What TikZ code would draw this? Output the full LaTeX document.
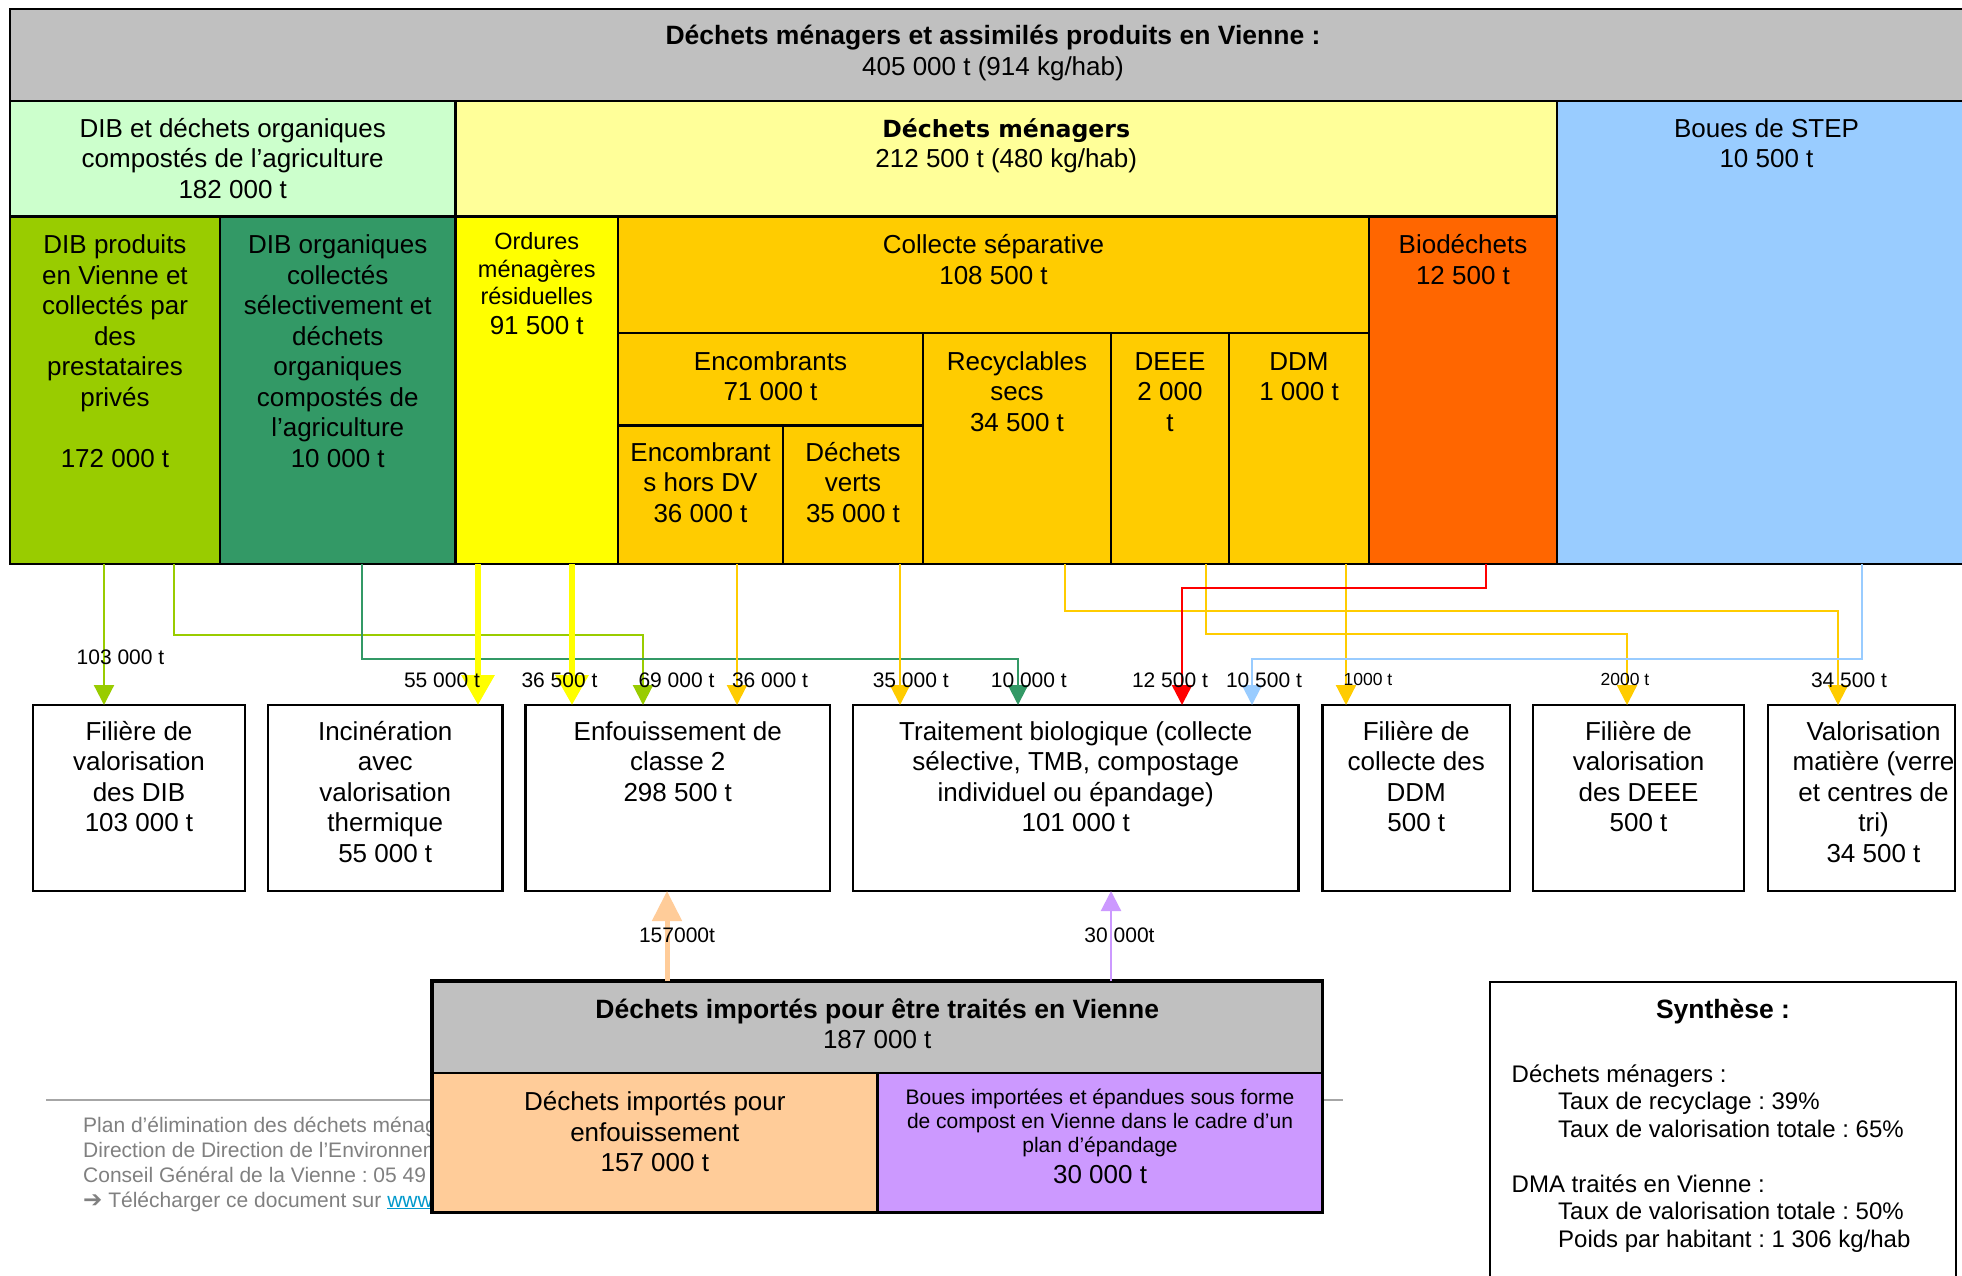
\documentclass[tikz,border=0pt]{standalone}
\usepackage{fontspec}
\setmainfont{Liberation Sans}
\newfontfamily\dejavu{DejaVu Sans}
\usetikzlibrary{arrows.meta,fit}
\definecolor{cTitle}{HTML}{C0C0C0}
\definecolor{cLGreen}{HTML}{CCFFCC}
\definecolor{cLYellow}{HTML}{FFFF99}
\definecolor{cLBlue}{HTML}{99CCFF}
\definecolor{cOlive}{HTML}{99CC00}
\definecolor{cDGreen}{HTML}{339966}
\definecolor{cYellow}{HTML}{FFFF00}
\definecolor{cOrange}{HTML}{FFCC00}
\definecolor{cRed}{HTML}{FF6600}
\definecolor{cArrRed}{HTML}{FF0000}
\definecolor{cPeach}{HTML}{FFCC99}
\definecolor{cPurple}{HTML}{CC99FF}
\definecolor{cFoot}{HTML}{808080}
\definecolor{cLink}{HTML}{0099CC}
\definecolor{cRule}{HTML}{A6A6A6}
\newcommand\bigbold[1]{{\bfseries\fontsize{26.5}{30.5}\selectfont #1}}
\begin{document}
\frenchspacing
\begin{tikzpicture}[x=1pt,y=-1pt,
 cell/.style={draw=black,line width=2.5pt,inner sep=0pt,outer sep=0pt},
 box/.style={draw=black,line width=2.5pt,inner sep=0pt,outer sep=0pt,fill=white},
 txt/.style={anchor=north,align=center,inner sep=0pt,outer sep=0pt,font=\fontsize{26}{30.5}\selectfont},
 lab/.style={inner sep=0pt,font=\fontsize{21}{24}\selectfont},
 slab/.style={inner sep=0pt,font=\fontsize{17.5}{20}\selectfont},
 conn/.style={draw=#1,line width=2.2pt,-{Triangle[width=20pt,length=20pt]}},
 thickconn/.style={draw=#1,line width=6.4pt,-{Triangle[width=32pt,length=30pt]}},
 peachconn/.style={draw=cPeach,line width=5pt,-{Triangle[width=29pt,length=30pt]}}
]
\useasboundingbox (0,0) rectangle (1962,1276);
\clip (0,0) rectangle (1962,1276);
\fill[white] (0,0) rectangle (1962,1276);

% ---------- upper grid ----------
\node[cell,fill=cTitle,fit={(10,9) (1976,101)}] (title) {};
\node[cell,fill=cLGreen,fit={(10,101) (455.5,216.5)}] (dibAll) {};
\node[cell,fill=cLYellow,fit={(455.5,101) (1557,216.5)}] (dm) {};
\node[cell,fill=cLBlue,fit={(1557,101) (1976,564)}] (step) {};
\node[cell,fill=cOlive,fit={(10,216.5) (220,564)}] (dibp) {};
\node[cell,fill=cDGreen,fit={(220,216.5) (455.5,564)}] (dibo) {};
\node[cell,fill=cYellow,fit={(455.5,216.5) (618,564)}] (omr) {};
\node[cell,fill=cOrange,fit={(618,216.5) (1369,333)}] (cs) {};
\node[cell,fill=cRed,fit={(1369,216.5) (1557,564)}] (bio) {};
\node[cell,fill=cOrange,fit={(618,333) (923,425.5)}] (enc) {};
\node[cell,fill=cOrange,fit={(618,425.5) (783,564)}] (enchdv) {};
\node[cell,fill=cOrange,fit={(783,425.5) (923,564)}] (dv) {};
\node[cell,fill=cOrange,fit={(923,333) (1111,564)}] (rec) {};
\node[cell,fill=cOrange,fit={(1111,333) (1229,564)}] (deee) {};
\node[cell,fill=cOrange,fit={(1229,333) (1369,564)}] (ddm) {};

\node[txt] (tTitle) at ([yshift=-14.3pt]title.north) {\strut\bigbold{Déchets ménagers et assimilés produits en Vienne :}\\405 000 t (914 kg/hab)};
\node[txt] (tDibAll) at ([yshift=-14.9pt]dibAll.north) {\strut DIB et déchets organiques\\compostés de l’agriculture\\182 000 t};
\node[txt] (tDm) at ([yshift=-15pt]dm.north) {\strut{\dejavu\bfseries\fontsize{23.6}{30.5}\selectfont Déchets ménagers}\\212 500 t (480 kg/hab)};
\node[txt] (tStep) at ([yshift=-14.9pt]step.north) {\strut Boues de STEP\\10 500 t};
\node[txt] (tDibp) at ([yshift=-15.8pt]dibp.north) {\strut DIB produits\\en Vienne et\\collectés par\\des\\prestataires\\privés\\[30.5pt]172 000 t};
\node[txt] (tDibo) at ([yshift=-15.8pt]dibo.north) {\strut DIB organiques\\collectés\\sélectivement et\\déchets\\organiques\\compostés de\\l’agriculture\\10 000 t};
\node[txt,font=\fontsize{23.5}{27.5}\selectfont] (tOmr) at ([yshift=-14.2pt]omr.north) {\strut Ordures\\ménagères\\résiduelles\\[2pt]{\fontsize{26}{30.5}\selectfont 91 500 t}};
\node[txt] (tCs) at ([yshift=-15.8pt]cs.north) {\strut Collecte séparative\\108 500 t};
\node[txt] (tBio) at ([yshift=-15.8pt]bio.north) {\strut Biodéchets\\12 500 t};
\node[txt] (tEnc) at ([yshift=-15.7pt]enc.north) {\strut Encombrants\\71 000 t};
\node[txt] (tEnchdv) at ([yshift=-14.5pt]enchdv.north) {\strut Encombrant\\s hors DV\\36 000 t};
\node[txt] (tDv) at ([yshift=-14.5pt]dv.north) {\strut Déchets\\verts\\35 000 t};
\node[txt] (tRec) at ([yshift=-15.7pt]rec.north) {\strut Recyclables\\secs\\34 500 t};
\node[txt] (tDeee) at ([yshift=-15.7pt]deee.north) {\strut DEEE\\2 000\\t};
\node[txt] (tDdm) at ([yshift=-15.7pt]ddm.north) {\strut DDM\\1 000 t};

% ---------- destination boxes ----------
\node[box,fit={(33,705) (245,891)}] (bDib) {};
\node[box,fit={(268,705) (502.5,891)}] (bInc) {};
\node[box,fit={(525.5,705) (830,891)}] (bEnf) {};
\node[box,fit={(853,705) (1298.5,891)}] (bBio) {};
\node[box,fit={(1322.5,705) (1510,891)}] (bDdm) {};
\node[box,fit={(1533,705) (1744,891)}] (bDeee) {};
\node[box,fit={(1768,705) (1955,891)}] (bVmat) {};

\node[txt] (xDib) at ([yshift=-14.1pt]bDib.north) {\strut Filière de\\valorisation\\des DIB\\103 000 t};
\node[txt] (xInc) at ([yshift=-14.1pt]bInc.north) {\strut Incinération\\avec\\valorisation\\thermique\\55 000 t};
\node[txt] (xEnf) at ([yshift=-14.1pt]bEnf.north) {\strut Enfouissement de\\classe 2\\298 500 t};
\node[txt] (xBio) at ([yshift=-14.1pt]bBio.north) {\strut Traitement biologique (collecte\\sélective, TMB, compostage\\individuel ou épandage)\\101 000 t};
\node[txt] (xDdm) at ([yshift=-14.1pt]bDdm.north) {\strut Filière de\\collecte des\\DDM\\500 t};
\node[txt] (xDeee) at ([yshift=-14.1pt]bDeee.north) {\strut Filière de\\valorisation\\des DEEE\\500 t};
\node[txt] (xVmat) at ([xshift=12pt,yshift=-14.1pt]bVmat.north) {\strut Valorisation\\matière (verre\\et centres de\\tri)\\34 500 t};

% ---------- footer ----------
\draw[cRule,line width=2pt] (46,1100) -- (1342.5,1100);
\node[anchor=north west,align=left,inner sep=0pt,text=cFoot,font=\fontsize{21}{25}\selectfont] (foot) at (83,1114.5) {\strut Plan d’élimination des déchets ménagers\\Direction de Direction de l’Environnement\\Conseil Général de la Vienne : 05 49\\{\dejavu\bfseries\fontsize{23}{25}\selectfont ➔} Télécharger ce document sur \textcolor{cLink}{\underline{www}}};

% ---------- imported waste ----------
\node[cell,fill=cTitle,fit={(432,981) (1322.5,1073)}] (imp) {};
\node[cell,fill=cPeach,fit={(432,1073) (877.6,1212.5)}] (impEnf) {};
\node[cell,fill=cPurple,fit={(877.6,1073) (1322.5,1212.5)}] (impBoue) {};
\draw[line width=3.5pt] (imp.north west) rectangle (impBoue.south east);
\node[txt] (tImp) at ([yshift=-15.8pt]imp.north) {\strut\bigbold{Déchets importés pour être traités en Vienne}\\187 000 t};
\node[txt] (tImpEnf) at ([yshift=-16.3pt]impEnf.north) {\strut Déchets importés pour\\enfouissement\\157 000 t};
\node[txt,font=\fontsize{21}{24}\selectfont] (tImpBoue) at ([yshift=-15.1pt]impBoue.north) {\strut Boues importées et épandues sous forme\\de compost en Vienne dans le cadre d’un\\plan d’épandage\\[7pt]{\fontsize{26}{29}\selectfont 30 000 t}};

% ---------- synthesis ----------
\node[cell,line width=2pt,fill=white,fit={(1490,982) (1956,1300)}] (synth) {};
\node[txt] (tSynth) at ([yshift=-14.8pt]synth.north) {\strut\bigbold{Synthèse :}};
\node[anchor=north west,align=left,inner sep=0pt,font=\fontsize{24}{27.5}\selectfont] (tSynthBody) at (1511.5,1063) {\strut Déchets ménagers :\\\hspace*{46.5pt}Taux de recyclage : 39\%\\\hspace*{46.5pt}Taux de valorisation totale : 65\%\\[27.5pt]DMA traités en Vienne :\\\hspace*{46.5pt}Taux de valorisation totale : 50\%\\\hspace*{46.5pt}Poids par habitant : 1 306 kg/hab};

% ---------- connectors ----------
\draw[conn=cOlive] (dibp.south -| 104,0) -- (bDib.north -| 104,0);
\draw[conn=cOlive] (dibp.south -| 174,0) |- (643,635) -- (bEnf.north -| 643,0);
\draw[conn=cDGreen] (dibo.south -| 362,0) |- (1018,659) -- (bBio.north -| 1018,0);
\draw[thickconn=cYellow] (omr.south -| 478,0) -- (bInc.north -| 478,0);
\draw[thickconn=cYellow] (omr.south -| 572,0) -- (bEnf.north -| 572,0);
\draw[conn=cOrange] (enchdv.south -| 737,0) -- (bEnf.north -| 737,0);
\draw[conn=cOrange] (dv.south -| 900,0) -- (bBio.north -| 900,0);
\draw[conn=cOrange] (rec.south -| 1065,0) |- (1838,611) -- (bVmat.north -| 1838,0);
\draw[conn=cOrange] (deee.south -| 1206,0) |- (1627,634) -- (bDeee.north -| 1627,0);
\draw[conn=cOrange] (ddm.south -| 1346,0) -- (bDdm.north -| 1346,0);
\draw[conn=cArrRed,line width=2.6pt] (bio.south -| 1486,0) |- (1182,588) -- (bBio.north -| 1182,0);
\draw[conn=cLBlue] (step.south -| 1862,0) |- (1252,659) -- (bBio.north -| 1252,0);
\draw[peachconn] (imp.north -| 667,0) -- (bEnf.south -| 667,0);
\draw[conn=cPurple] (imp.north -| 1111,0) -- (bBio.south -| 1111,0);

% ---------- quantity labels ----------
\node[lab] (l1) at (120.5,657) {103 000 t};
\node[lab] (l2) at (442,680) {55 000 t};
\node[lab] (l3) at (559.5,680) {36 500 t};
\node[lab] (l4) at (676.5,680) {69 000 t};
\node[lab] (l5) at (770,680) {36 000 t};
\node[lab] (l6) at (910.7,680) {35 000 t};
\node[lab] (l7) at (1028.8,680) {10 000 t};
\node[lab] (l8) at (1170,680) {12 500 t};
\node[lab] (l9) at (1264,680) {10 500 t};
\node[slab] (l10) at (1368,679) {1000 t};
\node[slab] (l11) at (1625,679) {2000 t};
\node[lab] (l12) at (1849,680) {34 500 t};
\node[lab] (l13) at (677,935) {157000t};
\node[lab] (l14) at (1119.5,935) {30 000t};
\end{tikzpicture}
\end{document}
